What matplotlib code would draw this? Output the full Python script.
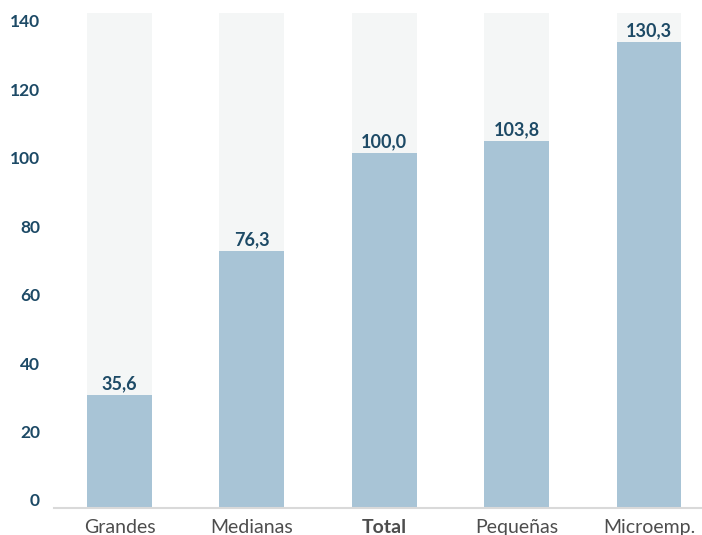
import matplotlib
matplotlib.use("Agg")
import matplotlib.pyplot as plt
from matplotlib.transforms import ScaledTranslation

# data
categories = ["Grandes", "Medianas", "Total", "Pequeñas", "Microemp."]
labels = ["35,6", "76,3", "100,0", "103,8", "130,3"]
bar_heights = [32.9, 75.0, 103.6, 107.1, 136.1]   # heights as drawn on the axis
y_ticks = [0, 20, 40, 60, 80, 100, 120, 140]
y_top = 144.6

bar_color = "#a8c4d6"
bg_color = "#f4f6f6"
dark = "#1d4a66"
grey_text = "#4d4d4d"

plt.rcParams["font.family"] = ["Lato", "DejaVu Sans"]

fig = plt.figure(figsize=(7.02, 5.35), dpi=100)
ax = fig.add_axes([54 / 702, 27.5 / 535, 1 - 54 / 702, (507.5 - 12.7) / 535])

x = list(range(len(categories)))
ax.bar(x, [y_top] * len(x), width=0.49, color=bg_color, zorder=1)
ax.bar(x, bar_heights, width=0.49, color=bar_color, zorder=2)

for xi, h, lab in zip(x, bar_heights, labels):
    ax.annotate(lab, (xi, h), xytext=(0, 4), textcoords="offset points",
                ha="center", va="baseline", fontsize=13, fontweight="bold",
                color=dark, zorder=3)

ax.set_xlim(-0.495, 4.40)
ax.set_ylim(0, y_top)

for s in ["top", "right", "left"]:
    ax.spines[s].set_visible(False)
ax.spines["bottom"].set_color("#d9d9d9")
ax.spines["bottom"].set_linewidth(1.5)

ax.set_xticks(x)
ax.set_xticklabels(categories, fontsize=14, color=grey_text)
ax.get_xticklabels()[2].set_fontweight("bold")
ax.tick_params(axis="x", length=0, pad=8.5)

ax.set_yticks(y_ticks)
ax.set_yticklabels([str(t) for t in y_ticks], fontsize=12.5, fontweight="bold", color=dark,
                   va="center")
ax.tick_params(axis="y", length=0, pad=10)
shift = ScaledTranslation(0, 6 / 100, fig.dpi_scale_trans)
for t in ax.get_yticklabels():
    t.set_transform(t.get_transform() + shift)

fig.savefig("out.png", dpi=100)
